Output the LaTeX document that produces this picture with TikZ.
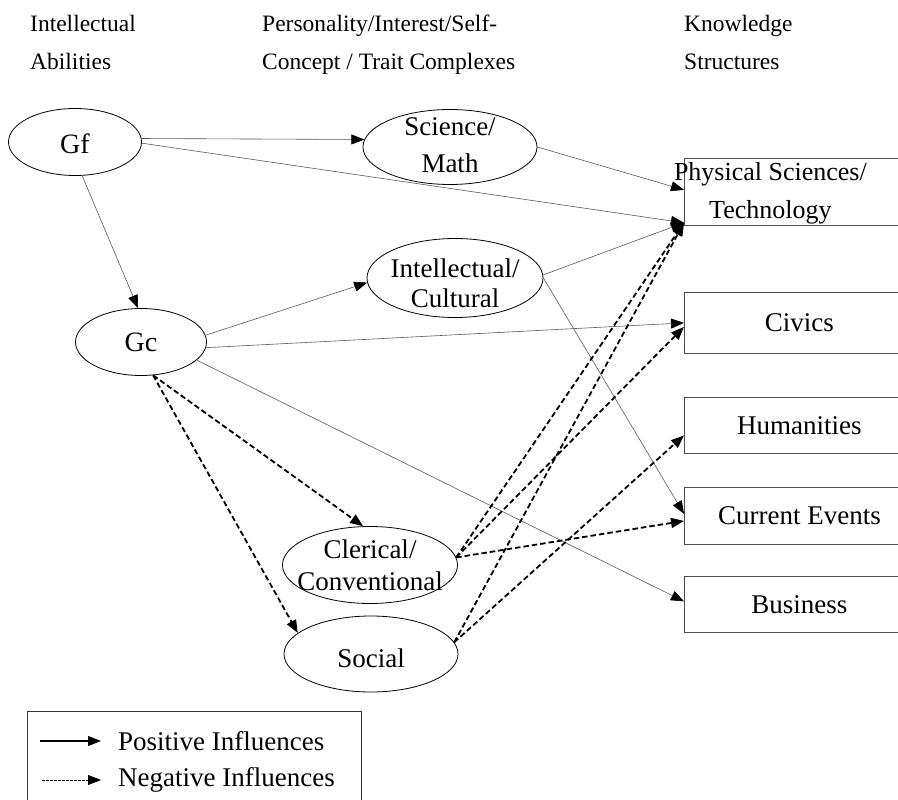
\documentclass[tikz,border=0pt]{standalone}
\usepackage{fontspec}
\setmainfont{Liberation Serif}
\usetikzlibrary{shapes.geometric,arrows.meta}
\begin{document}
\begin{tikzpicture}[x=1pt,y=-1pt,
  ell/.style={ellipse,draw=black,line width=0.8pt,inner sep=0pt},
  etext/.style={align=center,inner sep=0pt},
  kbox/.style={rectangle,draw=black!70,line width=0.8pt,anchor=north west,
    minimum width=230pt,inner sep=0pt,font=\fontsize{27}{30}\selectfont},
  head/.style={anchor=north west,align=left,inner sep=0pt,
    font=\fontsize{23.5}{38}\selectfont},
  arrowhead/.style={-{Triangle[length=13pt,width=10pt,color=black]}},
  posarrow/.style={arrowhead,draw=black!65,line width=0.6pt},
  negarrow/.style={arrowhead,draw=black,line width=1.8pt,dash pattern=on 5.5pt off 3pt},
  legtext/.style={anchor=west,inner sep=0pt,font=\fontsize{27}{30}\selectfont}
]
\useasboundingbox (0,0) rectangle (898,800);
\clip (0,0) rectangle (898,800);

% column headings
\node[head] (h1) at (30,15) {Intellectual\\Abilities};
\node[head] (h2) at (262,15) {Personality/Interest/Self-\\Concept / Trait Complexes};
\node[head] (h3) at (684,15) {Knowledge\\Structures};

% abilities
\node[ell,minimum width=133pt,minimum height=67pt,
  label={[etext,yshift=-2pt,font=\fontsize{28}{30}\selectfont]center:Gf}] (gf) at (75,142) {};
\node[ell,minimum width=131pt,minimum height=67pt,
  label={[etext,font=\fontsize{28}{30}\selectfont]center:Gc}] (gc) at (141,342) {};

% trait complexes
\node[ell,minimum width=174pt,minimum height=75pt,
  label={[etext,yshift=1.5pt,font=\fontsize{27}{37}\selectfont]center:Science/\\Math}] (sci) at (450,147) {};
\node[ell,minimum width=176pt,minimum height=79pt,
  label={[etext,yshift=-5pt,font=\fontsize{27}{30}\selectfont]center:Intellectual/\\Cultural}] (intel) at (455,278) {};
\node[ell,minimum width=175pt,minimum height=77pt,
  label={[etext,font=\fontsize{27}{32}\selectfont]center:Clerical/\\Conventional}] (cler) at (370,565) {};
\node[ell,minimum width=174pt,minimum height=76pt,
  label={[etext,yshift=-4pt,font=\fontsize{27}{30}\selectfont]center:Social}] (soc) at (371,654) {};

% knowledge structures
\node[kbox,minimum height=67pt,
  label={[etext,xshift=-29pt,yshift=-1pt,font=\fontsize{26}{38}\selectfont]center:Physical Sciences/\\Technology}] (phys) at (684,158) {};
\node[kbox,minimum height=61pt] (civ) at (684,292) {Civics};
\node[kbox,minimum height=56pt] (hum) at (684,397) {Humanities};
\node[kbox,minimum height=57pt] (cur) at (684,487) {Current Events};
\node[kbox,minimum height=56pt] (bus) at (684,576) {Business};

% positive influences
\draw[posarrow] (gf.3) -- (sci.175);
\draw[posarrow] (gf.-1) -- ([yshift=3pt]phys.south west);
\draw[posarrow] (gf.-78) -- (gc.95);
\draw[posarrow] (sci.east) -- ([yshift=2pt]phys.west);
\draw[posarrow] (intel.2) -- ([yshift=3pt]phys.south west);
\draw[posarrow] (intel.0) -- ([yshift=2pt]cur.west);
\draw[posarrow] (gc.6) -- (intel.183);
\draw[posarrow] (gc.-5) -- (civ.west);
\draw[posarrow] (gc.-18) -- ([yshift=3pt]bus.west);

% negative influences
\draw[negarrow] (gc.-70) -- (cler.100);
\draw[negarrow] (gc.-70) -- (soc.164);
\draw[negarrow] (cler.5) -- ([yshift=3pt]phys.south west);
\draw[negarrow] (cler.5) -- ([yshift=-4pt]civ.west);
\draw[negarrow] (cler.5) -- ([yshift=-5pt]cur.west);
\draw[negarrow] (soc.8) -- ([yshift=3pt]phys.south west);
\draw[negarrow] (soc.8) -- ([yshift=-10pt]hum.west);

% legend
\node[draw=black!80,line width=0.8pt,anchor=north west,inner sep=0pt,
  minimum width=334pt,minimum height=110pt] (legend) at (27,711) {};
\coordinate (p0) at (40,741);
\coordinate (p1) at (101,741);
\coordinate (n0) at (42,780);
\coordinate (n1) at (101,780);
\draw[arrowhead,line width=1.3pt] (p0) -- (p1);
\draw[arrowhead,line width=0.8pt,dash pattern=on 2.5pt off 1.5pt] (n0) -- (n1);
\node[legtext] (ptext) at (118,741) {Positive Influences};
\node[legtext] (ntext) at (118,780) {Negative Influences};
\end{tikzpicture}
\end{document}
